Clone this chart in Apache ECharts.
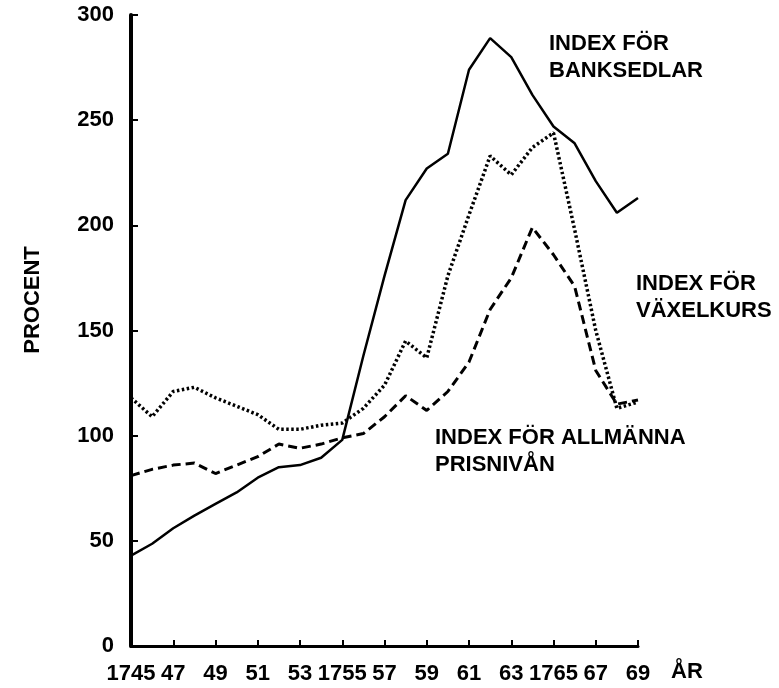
<!DOCTYPE html>
<html>
<head>
<meta charset="utf-8">
<script src="https://cdn.jsdelivr.net/npm/echarts@6/dist/echarts.min.js"></script>
<style>
html,body{margin:0;padding:0;background:#fff;}
#chart{width:779px;height:688px;}
</style>
</head>
<body>
<div id="chart"></div>
<script>
const years = [1745,1746,1747,1748,1749,1750,1751,1752,1753,1754,1755,1756,1757,1758,1759,1760,1761,1762,1763,1764,1765,1766,1767,1768,1769];
const banksedlar = [43,48.6,56,62,67.6,73,80,85,86,89.5,98,138,176,212,227,234,274,289,280,262,247,239,221,206,213];
const vaxelkurs = [118,109,121,123,118,114,110,103,103,105,106,113,124,145,137,176,205,233,224,237,244,198,150,113,116];
const prisnivan = [81,84,86,87,82,86,90,96,94,96,99,101,109,119,112,121,135,160,175,199,186,171,131,115,117];
const yTicks = [0,50,100,150,200,250,300];
const fullYearLabels = [1745,1755,1765];

const FONT = '"Liberation Sans", Arial, Helvetica, sans-serif';
const chart = echarts.init(document.getElementById('chart'));
const textStyle = {fontFamily: FONT, fontSize: 22, fontWeight: 'bold', fill: '#000'};

chart.setOption({
  animation: false,
  backgroundColor: '#fff',
  grid: {left: 131, right: 141, top: 15, bottom: 42, containLabel: false},
  xAxis: {
    type: 'category',
    data: years.map(String),
    boundaryGap: false,
    axisLine: {lineStyle: {color: '#000', width: 3}},
    axisTick: {inside: true, length: 6, interval: 1, lineStyle: {color: '#000', width: 2}},
    axisLabel: {
      interval: 1, margin: 17, color: '#000', fontFamily: FONT, fontSize: 22, fontWeight: 'bold',
      formatter: function (v) {
        const y = +v;
        return fullYearLabels.indexOf(y) >= 0 ? String(y) : String(y).slice(2);
      }
    },
    splitLine: {show: false}
  },
  yAxis: {
    type: 'value',
    min: yTicks[0], max: yTicks[yTicks.length - 1], interval: 50,
    axisLine: {show: true, lineStyle: {color: '#000', width: 4}},
    axisTick: {show: true, inside: true, length: 7, lineStyle: {color: '#000', width: 2}},
    axisLabel: {margin: 17, color: '#000', fontFamily: FONT, fontSize: 22, fontWeight: 'bold'},
    splitLine: {show: false}
  },
  series: [
    {
      name: 'INDEX FÖR BANKSEDLAR', type: 'line', data: banksedlar, symbol: 'none',
      lineStyle: {color: '#000', width: 2.5, type: 'solid'}, z: 3
    },
    {
      name: 'INDEX FÖR VÄXELKURS', type: 'line', data: vaxelkurs, symbol: 'none',
      lineStyle: {color: '#000', width: 3.5, type: [2.5, 2.5]}, z: 2
    },
    {
      name: 'INDEX FÖR ALLMÄNNA PRISNIVÅN', type: 'line', data: prisnivan, symbol: 'none',
      lineStyle: {color: '#000', width: 3, type: [9, 5]}, z: 2
    }
  ],
  graphic: [
    {type: 'text', x: 33, y: 300, rotation: Math.PI / 2,
      style: Object.assign({text: 'PROCENT', textAlign: 'center', textVerticalAlign: 'middle'}, textStyle)},
    {type: 'text', left: 549, top: 30, style: Object.assign({text: 'INDEX FÖR\nBANKSEDLAR', lineHeight: 27}, textStyle)},
    {type: 'text', left: 636, top: 270, style: Object.assign({text: 'INDEX FÖR\nVÄXELKURS', lineHeight: 27}, textStyle)},
    {type: 'text', left: 435, top: 424, style: Object.assign({text: 'INDEX FÖR ALLMÄNNA\nPRISNIVÅN', lineHeight: 27}, textStyle)},
    {type: 'text', left: 671, top: 661, style: Object.assign({text: 'ÅR'}, textStyle)}
  ]
});
</script>
</body>
</html>
